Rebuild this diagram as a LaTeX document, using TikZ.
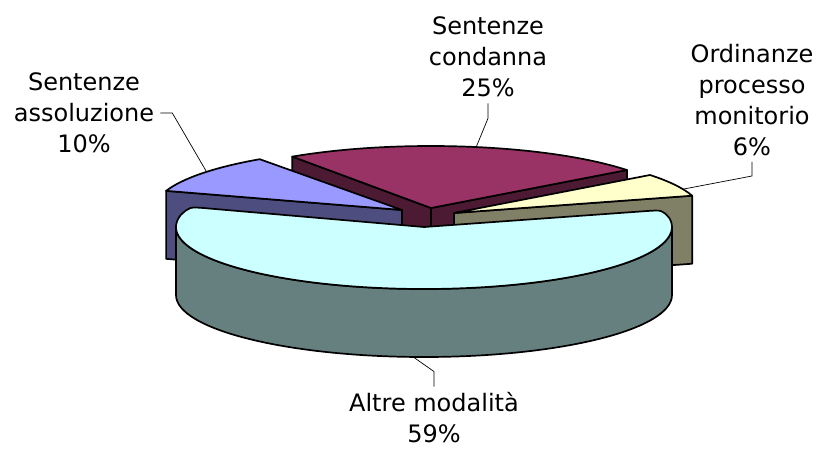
\documentclass[tikz,border=0pt]{standalone}
\usepackage{fontspec}
\setmainfont{DejaVu Sans}
\usetikzlibrary{calc}
\definecolor{blueTop}{HTML}{9999FF}
\definecolor{blueWall}{HTML}{4D4D80}
\definecolor{plumTop}{HTML}{993366}
\definecolor{plumWall}{HTML}{4D1A33}
\definecolor{creamTop}{HTML}{FFFFCC}
\definecolor{creamWall}{HTML}{808066}
\definecolor{aquaTop}{HTML}{CCFFFF}
\definecolor{aquaWall}{HTML}{668080}

\begin{document}
\begin{tikzpicture}[x=1pt,y=1pt,
        edge/.style={draw=black,line width=1.7pt,line join=round},
        leader/.style={draw=black,line width=0.7pt},
        lbl/.style={align=center,font=\fontsize{24}{31}\selectfont,inner sep=6pt}]
    \useasboundingbox (0,0) rectangle (819,-448);
    % slice centres (exploded)
    \coordinate (A) at (402,-210);
    \coordinate (C) at (431,-208);
    \coordinate (O) at (454,-213);
    \coordinate (M) at (424,-227);
    % Sentenze condanna (back)
    \path[edge,fill=plumWall] (C) -- ($(C)+(37.8:248 and 62)$) -- ++(0,-68) -- ($(C)+(0,-68)$) -- cycle;
    \path[edge,fill=plumWall] (C) -- ($(C)+(124:248 and 62)$) -- ++(0,-68) -- ($(C)+(0,-68)$) -- cycle;
    \path[edge,fill=plumTop] (C) -- ($(C)+(37.8:248 and 62)$)
        arc[start angle=37.8,end angle=124,x radius=248,y radius=62] -- cycle;
    % Sentenze assoluzione
    \path[edge,fill=blueWall] (A) -- ($(A)+(162:248 and 62)$) -- ++(0,-68) -- ($(A)+(0,-68)$) -- cycle;
    \path[edge,fill=blueTop] (A) -- ($(A)+(125:248 and 62)$)
        arc[start angle=125,end angle=162,x radius=248,y radius=62] -- cycle;
    % Ordinanze processo monitorio
    \path[edge,fill=creamWall] (O) -- ($(O)+(16.2:248 and 62)$) -- ++(0,-68) -- ($(O)+(0,-68)$) -- cycle;
    \path[edge,fill=creamTop] (O) -- ($(O)+(16.2:248 and 62)$)
        arc[start angle=16.2,end angle=37.8,x radius=248,y radius=62] -- cycle;
    % Altre modalita (front)
    \coordinate (M161) at ($(M)+(161:248 and 62)$);
    \coordinate (M16) at ($(M)+(16:248 and 62)$);
    \path[edge,fill=aquaWall] ($(M)+(180:248 and 62)$) -- ++(0,-68)
        arc[start angle=180,end angle=360,x radius=248,y radius=62] -- ++(0,68)
        arc[start angle=0,end angle=-180,x radius=248,y radius=62] -- cycle;
    \path[edge,fill=aquaTop] (M) -- ($(M)!0.93!(M161)$) .. controls (M161) .. ($(M)+(169:248 and 62)$)
        arc[start angle=169,end angle=368,x radius=248,y radius=62]
        .. controls (M16) .. ($(M)!0.93!(M16)$) -- cycle;
    % labels
    \coordinate (ptA) at ($(A)+(142:248 and 62)$);
    \coordinate (ptC) at ($(C)+(79.5:248 and 62)$);
    \coordinate (ptO) at ($(O)+(22.6:248 and 62)$);
    \coordinate (ptM) at ($(M)+(0,-68)+(267.5:248 and 62)$);
    \node[lbl] (lblA) at (84,-113) {Sentenze\\assoluzione\\10\%};
    \node[lbl] (lblC) at (488,-57) {Sentenze\\condanna\\25\%};
    \node[lbl] (lblO) at (752,-100) {Ordinanze\\processo\\monitorio\\6\%};
    \node[lbl,inner sep=1pt] (lblM) at (434,-418) {Altre modalità\\59\%};
    \draw[leader] (lblM.north) ++(0,5) -- ++(0,15) -- (ptM);
    \draw[leader] (lblA.east) -- ++(12,0) -- (ptA);
    \draw[leader] (lblC.south) -- ++(0,-15) -- (ptC);
    \draw[leader] (lblO.south) -- ++(0,-14) -- (ptO);
\end{tikzpicture}
\end{document}
